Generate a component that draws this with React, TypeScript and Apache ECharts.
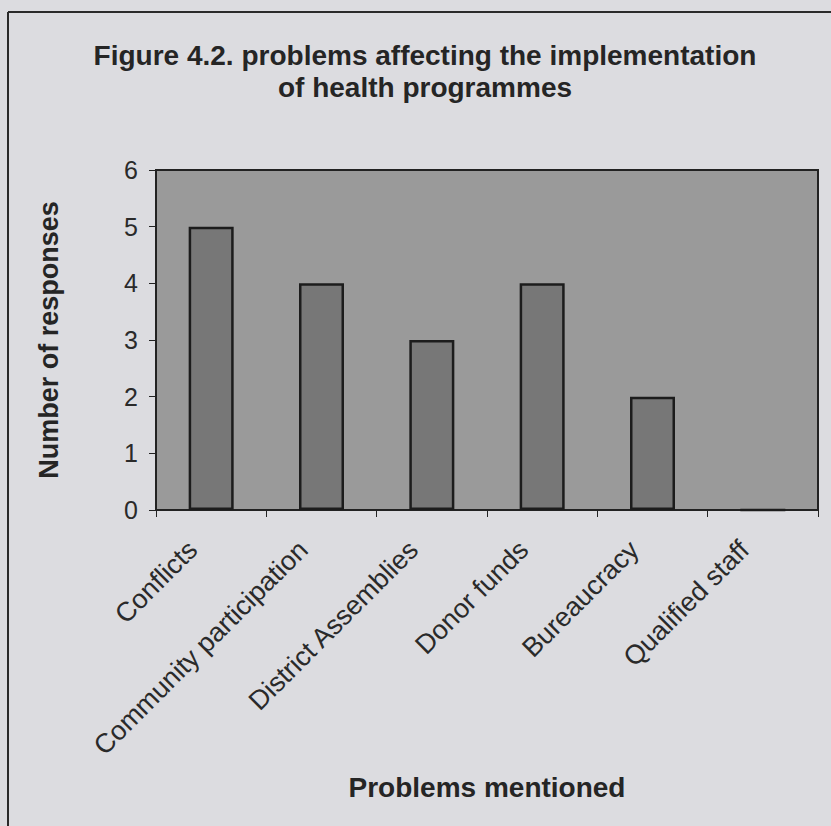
import React, { useEffect, useRef } from "react";
import * as echarts from "echarts";

const categories = [
  "Conflicts",
  "Community participation",
  "District Assemblies",
  "Donor funds",
  "Bureaucracy",
  "Qualified staff",
];
const responses = [5, 4, 3, 4, 2, 0];
const titleLines = [
  "Figure 4.2. problems affecting the implementation",
  "of health programmes",
];
const yAxisName = "Number of responses";
const xAxisName = "Problems mentioned";

export default function App() {
  const ref = useRef<HTMLDivElement>(null);
  useEffect(() => {
    document.body.style.margin = "0";
    const chart = echarts.init(ref.current!, null, { renderer: "svg" });
    const font = "'Liberation Sans', Arial, sans-serif";
    chart.setOption({
      animation: false,
      backgroundColor: "#dcdce0",
      textStyle: { fontFamily: font },
      graphic: [
        {
          type: "line",
          shape: { x1: 8, y1: 12, x2: 831, y2: 12 },
          style: { stroke: "#2a2a2a", lineWidth: 2 },
        },
        {
          type: "line",
          shape: { x1: 8, y1: 12, x2: 8, y2: 826 },
          style: { stroke: "#2a2a2a", lineWidth: 2 },
        },
        {
          type: "text",
          x: 425,
          y: 39,
          style: {
            text: titleLines.join("\n"),
            font: `bold 28px ${font}`,
            fill: "#252525",
            textAlign: "center",
            lineHeight: 32,
          },
        },
      ],
      grid: {
        left: 156,
        right: 13,
        top: 170,
        bottom: 316,
        show: true,
        backgroundColor: "#9a9a9a",
        borderColor: "#222",
        borderWidth: 2,
      },
      xAxis: {
        type: "category",
        data: categories,
        axisLine: { lineStyle: { color: "#222", width: 2 } },
        axisTick: { show: true, length: 7, lineStyle: { color: "#222", width: 1 } },
        axisLabel: {
          interval: 0,
          rotate: 45,
          fontSize: 27,
          color: "#2a2a2a",
          margin: 17,
          padding: [0, 26, 0, 0],
          fontFamily: font,
        },
        name: xAxisName,
        nameLocation: "middle",
        nameGap: 263,
        nameTextStyle: { fontSize: 28, fontWeight: "bold", color: "#252525", fontFamily: font },
      },
      yAxis: {
        type: "value",
        min: 0,
        max: 6,
        interval: 1,
        splitLine: { show: false },
        axisLine: { show: true, lineStyle: { color: "#222", width: 2 } },
        axisTick: { show: true, length: 7, lineStyle: { color: "#222", width: 1 } },
        axisLabel: { fontSize: 25, color: "#2a2a2a", margin: 18, fontFamily: font },
        name: yAxisName,
        nameLocation: "middle",
        nameGap: 94,
        nameTextStyle: { fontSize: 27, fontWeight: "bold", color: "#252525", fontFamily: font },
      },
      series: [
        {
          type: "bar",
          data: responses,
          barWidth: 45,
          itemStyle: { color: "#777777", borderColor: "#1c1c1c", borderWidth: 2.5 },
        },
      ],
    });
    return () => chart.dispose();
  }, []);
  return <div ref={ref} style={{ width: 831, height: 826 }} />;
}
